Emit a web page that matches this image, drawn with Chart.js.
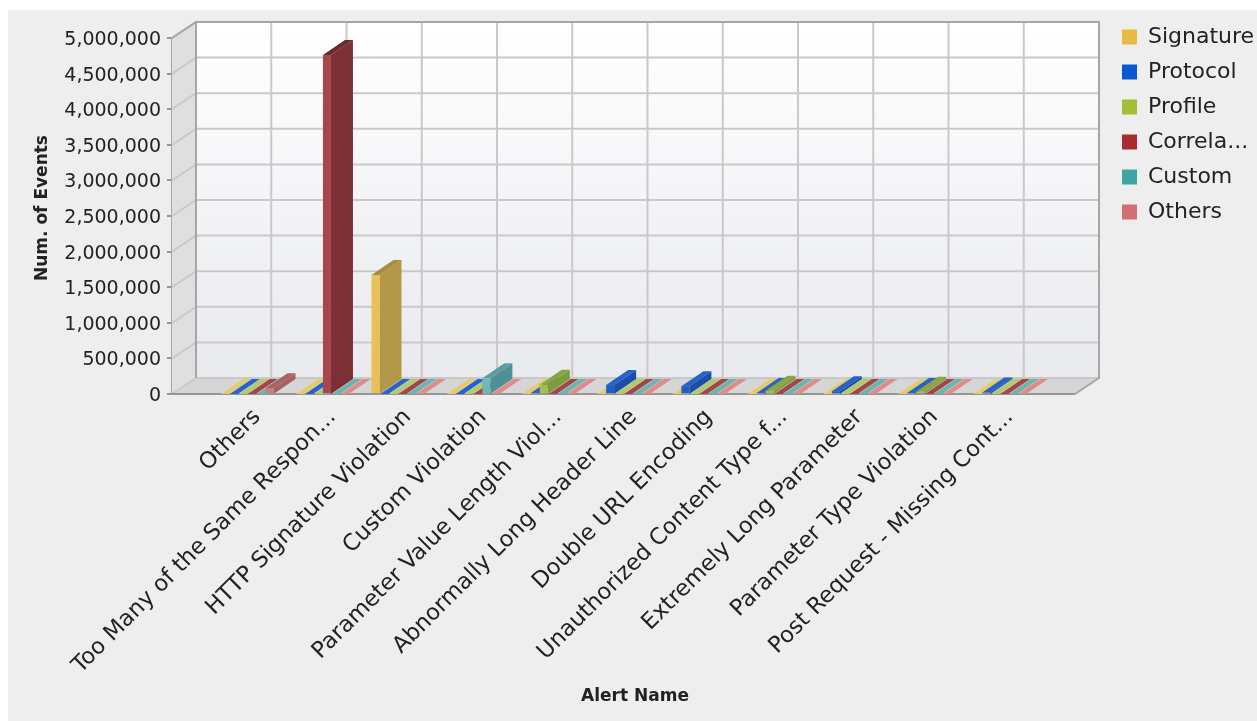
<!DOCTYPE html>
<html>
<head>
<meta charset="utf-8">
<title>Alerts by type</title>
<script src="https://cdn.jsdelivr.net/npm/chart.js@4"></script>
<style>
  html, body { margin: 0; padding: 0; background: #ffffff; }
  #panel { position: absolute; left: 8px; top: 10px; width: 1249px; height: 711px; background: #eeeeee; }
  #chart { position: absolute; left: 0; top: 0; }
</style>
</head>
<body>
<div id="panel"></div>
<canvas id="chart" width="1257" height="721"></canvas>
<script>
const alertNames = ['Others', 'Too Many of the Same Respon...', 'HTTP Signature Violation', 'Custom Violation',
    'Parameter Value Length Viol...', 'Abnormally Long Header Line', 'Double URL Encoding',
    'Unauthorized Content Type f...', 'Extremely Long Parameter', 'Parameter Type Violation', 'Post Request - Missing Cont...'];

const signature   = [0, 0, 1670000, 0, 0, 0, 0, 0, 0, 0, 0];
const protocol    = [0, 0, 0, 0, 15000, 125000, 110000, 15000, 40000, 15000, 20000];
const profile     = [0, 0, 0, 0, 130000, 0, 0, 45000, 0, 30000, 0];
const correlation = [0, 4760000, 0, 0, 0, 0, 0, 0, 0, 0, 0];
const custom      = [0, 0, 0, 220000, 0, 0, 0, 0, 0, 0, 0];
const others      = [80000, 0, 0, 0, 0, 0, 0, 0, 0, 0, 0];

const seriesNames = ['Signature', 'Protocol', 'Profile', 'Correla...', 'Custom', 'Others'];
const seriesValues = [signature, protocol, profile, correlation, custom, others];

const frontColors = ['#e8c252', '#1f5ec6', '#a3bf48', '#a5474c', '#74b5b5', '#cf7a7a'];
const sideColors  = ['#b3984a', '#1b4ea8', '#7f9c3c', '#7c3035', '#4f9094', '#a86060'];
const topColors   = ['#a68d40', '#2563c9', '#8aa545', '#6b2a2e', '#5c9da0', '#a86464'];
const floorColors = ['#e5cc6a', '#2763cc', '#b3ca6c', '#a24648', '#6bb5ac', '#e08a8a'];
const legendColors = ['#e5bb45', '#0b57d0', '#a3bf35', '#a92c32', '#3fa3a8', '#d66f6f'];

// la caja 3D va detras del area del grafico, desplazada por la profundidad
const depthX = 24;
const depthY = 16;
const barDepthX = 22;
const barDepthY = 15;

function poly(ctx, pts, fill) {
    ctx.beginPath();
    pts.forEach((p, i) => i ? ctx.lineTo(p[0], p[1]) : ctx.moveTo(p[0], p[1]));
    ctx.closePath();
    ctx.fillStyle = fill;
    ctx.fill();
}

const box3d = {
    id: 'box3d',
    afterLayout(chart) {
        // la leyenda no debe quitar espacio al grafico
        const l = chart.legend;
        l.left = 1109;
        l.right = l.left + l.width;
        l.top = 13;
        l.bottom = l.top + l.height;
        l.adjustHitBoxes();
    },
    beforeDatasetsDraw(chart) {
        const { ctx, chartArea: a, scales: { x, y } } = chart;
        ctx.save();

        // pared del fondo
        const wall = ctx.createLinearGradient(0, a.top - depthY, 0, a.bottom - depthY);
        wall.addColorStop(0, '#ffffff');
        wall.addColorStop(1, '#e9eaee');
        ctx.fillStyle = wall;
        ctx.fillRect(a.left + depthX, a.top - depthY, a.width, a.height);

        // pared izquierda
        poly(ctx, [[a.left, a.top], [a.left + depthX, a.top - depthY], [a.left + depthX, a.bottom - depthY], [a.left, a.bottom]], '#dfdfdf');

        // suelo
        poly(ctx, [[a.left, a.bottom], [a.left + depthX, a.bottom - depthY], [a.right + depthX, a.bottom - depthY], [a.right, a.bottom]], '#d6d6d6');

        // rejilla
        ctx.strokeStyle = '#c9c9cb';
        ctx.lineWidth = 2;
        y.ticks.forEach(t => {
            const py = y.getPixelForValue(t.value);
            ctx.beginPath();
            ctx.moveTo(a.left, py);
            ctx.lineTo(a.left + depthX, py - depthY);
            ctx.lineTo(a.right + depthX, py - depthY);
            ctx.stroke();
        });
        x.ticks.forEach((t, i) => {
            const px = x.getPixelForTick(i) + depthX;
            ctx.beginPath();
            ctx.moveTo(px, a.top - depthY);
            ctx.lineTo(px, a.bottom - depthY);
            ctx.stroke();
        });

        // bordes
        ctx.strokeStyle = '#a6a6a6';
        ctx.beginPath();
        ctx.moveTo(a.left, a.top);
        ctx.lineTo(a.left + depthX, a.top - depthY);
        ctx.lineTo(a.right + depthX, a.top - depthY);
        ctx.lineTo(a.right + depthX, a.bottom - depthY);
        ctx.lineTo(a.right, a.bottom);
        ctx.moveTo(a.left + depthX, a.top - depthY);
        ctx.lineTo(a.left + depthX, a.bottom - depthY);
        ctx.stroke();
        ctx.strokeStyle = '#969696';
        ctx.beginPath();
        ctx.moveTo(a.left - 4, a.bottom);
        ctx.lineTo(a.right, a.bottom);
        ctx.stroke();

        // caras laterales y superiores, de izquierda a derecha
        alertNames.forEach((name, c) => {
            seriesValues.forEach((vals, s) => {
                const bar = chart.getDatasetMeta(s).data[c + 1];
                const xl = bar.x - bar.width / 2;
                const xr = bar.x + bar.width / 2;
                const yt = y.getPixelForValue(vals[c]);
                const yb = y.getPixelForValue(0);
                const tc = vals[c] === 0 ? floorColors[s] : topColors[s];
                poly(ctx, [[xr, yt], [xr + barDepthX, yt - barDepthY], [xr + barDepthX, yb - barDepthY], [xr, yb]], sideColors[s]);
                poly(ctx, [[xl, yt], [xl + barDepthX, yt - barDepthY], [xr + barDepthX, yt - barDepthY], [xr, yt]], tc);
            });
        });
        ctx.restore();
    },
    afterDraw(chart) {
        const { ctx } = chart;
        ctx.save();
        ctx.fillStyle = '#222222';
        ctx.font = 'bold 17px "DejaVu Sans"';
        ctx.textAlign = 'center';
        ctx.textBaseline = 'middle';
        ctx.fillText('Alert Name', 635, 697);
        ctx.translate(43, 208);
        ctx.rotate(-Math.PI / 2);
        ctx.fillText('Num. of Events', 0, 0);
        ctx.restore();
    }
};

new Chart(document.getElementById('chart'), {
    type: 'bar',
    data: {
        labels: ['', ...alertNames, ''],
        datasets: seriesNames.map((name, s) => ({
            label: name,
            data: [null, ...seriesValues[s], null],
            backgroundColor: frontColors[s],
            borderWidth: 0,
            categoryPercentage: 0.71,
            barPercentage: 0.9
        }))
    },
    options: {
        responsive: false,
        animation: false,
        layout: { padding: { left: 0, top: 38, right: 182, bottom: 0 } },
        scales: {
            x: {
                offset: false,
                grid: { display: false },
                border: { display: false },
                afterFit: s => { s.height = 327; },
                ticks: {
                    autoSkip: false,
                    minRotation: 45,
                    maxRotation: 45,
                    labelOffset: 10,
                    padding: 2,
                    color: '#222222',
                    font: { family: 'DejaVu Sans', size: 22.6 }
                }
            },
            y: {
                min: 0,
                max: 5000000,
                afterFit: s => { s.width = 172; },
                grid: { drawOnChartArea: false, color: '#969696', lineWidth: 2, tickLength: 5 },
                border: { color: '#a6a6a6', width: 2 },
                ticks: {
                    stepSize: 500000,
                    padding: 6,
                    labelOffset: 2,
                    color: '#222222',
                    font: { family: 'DejaVu Sans', size: 19 },
                    callback: v => v.toLocaleString('en-US')
                }
            }
        },
        plugins: {
            tooltip: { enabled: false },
            legend: {
                position: 'chartArea',
                align: 'start',
                labels: {
                    boxWidth: 15,
                    boxHeight: 15,
                    padding: 13,
                    color: '#222222',
                    font: { family: 'DejaVu Sans', size: 22 },
                    generateLabels: chart => chart.data.datasets.map((d, s) => ({
                        text: d.label,
                        fillStyle: legendColors[s],
                        strokeStyle: legendColors[s],
                        lineWidth: 0,
                        datasetIndex: s,
                        fontColor: '#222222'
                    }))
                }
            }
        }
    },
    plugins: [box3d]
});
</script>
</body>
</html>
